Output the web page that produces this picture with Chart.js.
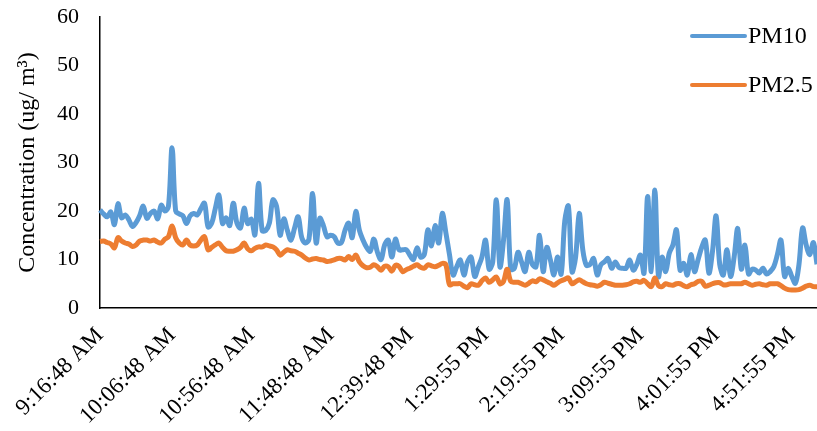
<!DOCTYPE html>
<html>
<head>
<meta charset="utf-8">
<script src="https://cdn.jsdelivr.net/npm/chart.js@4"></script>
<style>
  body { margin: 0; background: #fff; }
  #wrap { width: 817px; height: 431px; }
</style>
</head>
<body>
<div id="wrap"><canvas id="pmChart"></canvas></div>
<script>
// readings, left to right
const pm10 = [
  20.2, 19.4, 18.8, 19.8, 17.2, 21.5, 18.6, 19.2, 18.2, 16.8,
  17.6, 19, 21, 18.5, 19.5, 20, 18.4, 21.2, 20, 21,
  33, 20, 19.4, 19, 17.4, 19, 19.5, 19.2, 20.5, 21.6,
  16.7, 17.5, 20.5, 23.3, 17.4, 18.6, 17, 21.6, 17.5, 16.5,
  20.6, 17.4, 18.3, 15.1, 25.7, 16, 16, 17.5, 22.3, 21,
  15, 18.4, 16, 14, 16.5, 18.8, 14.5, 13.4, 14.2, 23.6,
  13.4, 18.5, 17, 14.7, 15, 14.7, 13.4,
  13.5, 16, 17.5, 14.5, 19.9, 16, 14, 12.5, 11.7, 14.2,
  11.5, 10, 13, 14, 10.5, 14.2, 12, 12, 12, 10.9,
  10, 12.4, 10.5, 11, 16.1, 12.8, 17, 13.4, 19.5, 15.5,
  11, 6.8, 8.5, 9.9, 6.8, 9.5, 10.5, 6.5, 8.5, 10.5,
  14, 8, 9.5, 22.3, 8.5, 14, 22.3, 8, 8.2, 11.5,
  9.5, 7.5, 11.5, 9, 8.5, 15, 7.5, 12.5, 9.9, 6.8,
  10.5, 7, 18, 21, 7.5, 10.5,
  19.5, 12, 8.8, 9, 10.2, 6.8, 8.9, 9.5, 10.2, 8.2,
  9.5, 8.4, 8.2, 8.2, 9.9, 7.8, 9, 10.9, 7.2, 23,
  7.5, 24.3, 6.5, 10.5, 7.5, 11.3, 13, 16.1, 7.8, 9.2,
  6.8, 11, 7.5, 10, 12.5, 14, 7.2, 11.7, 19, 9,
  6.8, 12, 6.5, 10.5, 16.4, 8, 13, 7, 8, 7.8,
  7.2, 8.2, 7, 7.5, 8.5, 11, 14, 6.5, 8.2, 6.5,
  5.1, 9, 16.5, 13, 11, 13.5, 9
];

const pm25 = [
  13.7, 13.8, 13.5, 13.2, 12.4, 14.5, 13.8, 13.4, 13.2, 12.7,
  13, 13.8, 14, 14, 13.8, 14, 13.6, 13.4, 14.2, 14.7,
  16.9, 14.5, 13.4, 13, 14, 13, 12.8, 13, 14, 14.7,
  12, 12.5, 13, 13.4, 12.5, 11.8, 11.7, 11.7, 12, 12.5,
  13.4, 12.2, 11.8, 12.3, 12.6, 12.6, 13, 12.8, 12.6, 12,
  10.9, 11.5, 12, 11.8, 11.7, 11.3, 10.9, 10.3, 9.9, 10.1,
  10.2, 10, 9.9, 9.6, 9.7, 9.9, 10.2,
  10.2, 9.9, 10.6, 10, 10.9, 9.5, 8.7, 8.3, 8.4, 8.9,
  8.5, 7.8, 8.6, 8.5, 7.6, 8.8, 8.6, 7.5, 7.9, 8.2,
  8.6, 8.9, 8.4, 8.2, 8.9, 8.7, 8.5, 8.8, 9.2, 8.9,
  4.8, 5, 5, 5, 4.5, 4.2, 5, 4.8, 4.7, 5.6,
  6.2, 5.3, 5.8, 6.4, 5, 5.5, 8, 5.5, 5.3, 5.3,
  5, 4.7, 5.1, 5.6, 5.4, 6, 5.8, 5.4, 5.1, 4.7,
  5.2, 5.6, 5.9, 6.2, 5, 5.4,
  5.8, 5.4, 5, 4.8, 4.7, 4.5, 4.8, 5.3, 5.1, 4.9,
  4.7, 4.7, 4.7, 4.8, 5, 5.4, 5.5, 5.3, 5.7, 5,
  4.4, 6.2, 4.6, 4.4, 5, 4.8, 4.7, 5, 5, 4.6,
  4.4, 4.8, 5, 5.5, 5.5, 4.5, 4.7, 5, 5.2, 5.2,
  4.8, 4.8, 5, 5, 5, 5, 5.3, 5, 4.7, 4.9,
  5, 4.8, 4.7, 5, 5, 5, 4.6, 4.1, 3.8, 3.7,
  3.7, 3.8, 4.1, 4.5, 4.7, 4.4, 4.4
];

const tickLabels = ["9:16:48 AM", "10:06:48 AM", "10:56:48 AM", "11:48:48 AM", "12:39:48 PM",
  "1:29:55 PM", "2:19:55 PM", "3:09:55 PM", "4:01:55 PM", "4:51:55 PM"];
const tickIdx = [0, 20, 42, 64, 86, 107, 128, 150, 171, 192];

const labels = pm10.map((v, i) => {
  const k = tickIdx.indexOf(i);
  return k >= 0 ? tickLabels[k] : "";
});

const serif = "'Liberation Serif', 'Times New Roman', serif";
Chart.defaults.font.family = serif;
Chart.defaults.color = "#000";

// legend drawn inside the plot, top right, like the original
const sideLegend = {
  id: "sideLegend",
  afterDraw(chart) {
    const ctx = chart.ctx;
    chart.data.datasets.forEach((ds, i) => {
      const y = 36 + i * 49;
      ctx.save();
      ctx.strokeStyle = ds.borderColor;
      ctx.lineWidth = 4;
      ctx.lineCap = "round";
      ctx.beginPath();
      ctx.moveTo(692, y);
      ctx.lineTo(745, y);
      ctx.stroke();
      ctx.fillStyle = "#000";
      ctx.font = "24px " + serif;
      ctx.textBaseline = "middle";
      ctx.fillText(ds.label, 748, y + 1);
      ctx.restore();
    });
  }
};

// drop the extra room chart.js keeps for edge labels
const noEdgePad = (s) => {
  s.paddingLeft = 0;
  s.paddingRight = 0;
  s.paddingTop = 0;
  s.paddingBottom = 0;
};

new Chart(document.getElementById("pmChart"), {
  type: "line",
  data: {
    labels: labels,
    datasets: [
      {
        label: "PM10",
        data: pm10,
        borderColor: "#5B9BD5",
        borderWidth: 5,
        pointRadius: 0,
        tension: 0.35,
        fill: false,
        order: 1,
      },
      {
        label: "PM2.5",
        data: pm25,
        borderColor: "#ED7D31",
        borderWidth: 5,
        pointRadius: 0,
        tension: 0.35,
        fill: false,
        order: 0,
      },
    ],
  },
  options: {
    responsive: true,
    maintainAspectRatio: false,
    animation: false,
    devicePixelRatio: 1,
    layout: { padding: { top: 17, right: 0, left: 0, bottom: 0 } },
    plugins: {
      legend: { display: false },
      tooltip: { enabled: false },
    },
    scales: {
      x: {
        type: "category",
        offset: false,
        grid: { display: false, drawTicks: false },
        border: { color: "#000", width: 1.5 },
        ticks: {
          autoSkip: false,
          minRotation: 45,
          maxRotation: 45,
          padding: 14,
          font: { size: 23 },
          callback: (v, i) => labels[i],
        },
        afterFit: (s) => { s.height = 123; noEdgePad(s); },
      },
      y: {
        min: 0,
        max: 60,
        grid: { display: false, drawTicks: false },
        border: { color: "#000", width: 1.5 },
        ticks: { stepSize: 10, padding: 21, font: { size: 22 } },
        title: {
          display: true,
          text: "Concentration (ug/ m³)",
          font: { size: 24 },
          padding: { top: 13, bottom: 0 },
        },
        afterFit: (s) => { s.width = 100; noEdgePad(s); },
      },
    },
  },
  plugins: [sideLegend],
});
</script>
</body>
</html>
